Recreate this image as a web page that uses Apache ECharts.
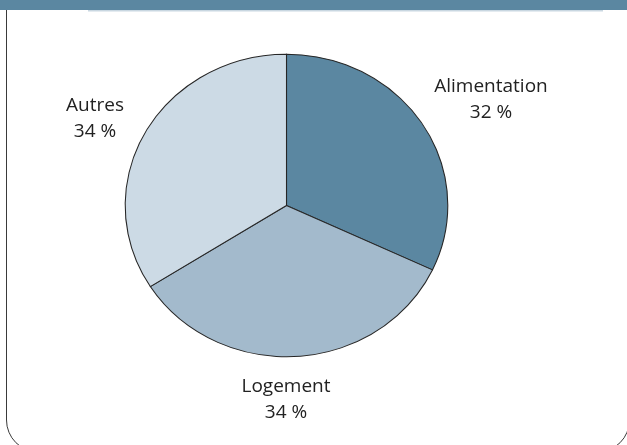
<!DOCTYPE html>
<html>
<head>
<meta charset="utf-8">
<script src="https://cdn.jsdelivr.net/npm/echarts@6/dist/echarts.min.js"></script>
<style>
  html, body { margin: 0; padding: 0; background: #ffffff; }
  #chart { width: 627px; height: 445px; }
</style>
</head>
<body>
<div id="chart"></div>
<script>
// Répartition des dépenses (en %)
const categories = ['Alimentation', 'Logement', 'Autres'];
const shares = [32, 34, 34];

// Styling
const sliceColors = ['#5b87a1', '#a3bacc', '#ccdae5'];
const outline = '#262626';
const textColor = '#222222';
const fontFamily = '"Open Sans", sans-serif';

// Pie geometry: slightly wider than tall
const CX = 286.5, CY = 205.5, RX = 161.3, RY = 151.3;

// Label anchors (centre of each two-line label)
const labelLayout = {
  'Alimentation': [491, 100],
  'Logement': [286, 399.5],
  'Autres': [95, 119]
};

const total = shares.reduce((a, b) => a + b, 0);

function renderSlice(params, api) {
  const i = params.dataIndex;
  const value = api.value(0);
  const before = shares.slice(0, i).reduce((a, b) => a + b, 0);
  const start = -Math.PI / 2 + (before / total) * 2 * Math.PI;
  const end = start + (value / total) * 2 * Math.PI;
  const anchor = labelLayout[categories[i]];
  return {
    type: 'group',
    children: [
      {
        type: 'sector',
        x: CX, y: CY,
        scaleX: RX / RY,
        shape: { cx: 0, cy: 0, r0: 0, r: RY, startAngle: start, endAngle: end, clockwise: true },
        style: { fill: sliceColors[i], stroke: outline, lineWidth: 1, strokeNoScale: true }
      },
      {
        type: 'text',
        x: anchor[0], y: anchor[1],
        style: {
          text: categories[i] + '\n' + value + ' %',
          fill: textColor,
          fontSize: 19,
          fontFamily: fontFamily,
          align: 'center',
          verticalAlign: 'middle',
          lineHeight: 26
        }
      }
    ]
  };
}

const chart = echarts.init(document.getElementById('chart'), null, { renderer: 'canvas' });
chart.setOption({
  animation: false,
  backgroundColor: '#ffffff',
  graphic: [
    // panel outline with rounded bottom corners
    {
      type: 'rect', z: 0,
      shape: { x: 6.5, y: 4, width: 623, height: 448, r: [0, 0, 32, 32] },
      style: { fill: 'none', stroke: '#3a3a3a', lineWidth: 1 }
    },
    // header band
    {
      type: 'rect', z: 1,
      shape: { x: 0, y: 0, width: 627, height: 10 },
      style: { fill: '#5b87a1' }
    },
    {
      type: 'rect', z: 1,
      shape: { x: 88, y: 10, width: 515, height: 1.5 },
      style: { fill: '#c9d7e1' }
    }
  ],
  series: [{
    type: 'custom',
    coordinateSystem: 'none',
    renderItem: renderSlice,
    data: shares.map(v => [v]),
    silent: true
  }]
});
</script>
</body>
</html>
